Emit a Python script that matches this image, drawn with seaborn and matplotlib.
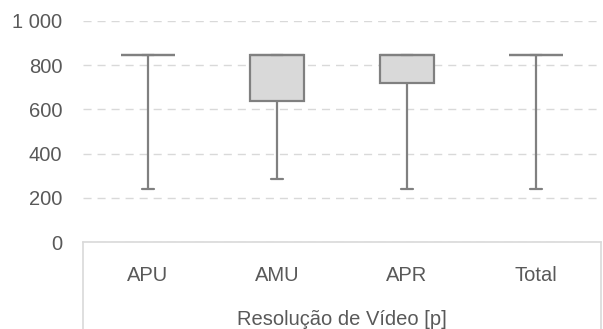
import matplotlib
matplotlib.use("Agg")
import matplotlib.pyplot as plt
from matplotlib.lines import Line2D
from matplotlib.ticker import FuncFormatter
import seaborn as sns
import pandas as pd

# five-number summaries
categories = ["APU", "AMU", "APR", "Total"]
mins = [240, 283, 240, 240]
q1s = [848, 640, 720, 845]
medians = [848, 848, 845, 845]
q3s = [848, 848, 845, 845]
maxs = [848, 848, 848, 845]

rows = []
for cat, a, b, c, d, e in zip(categories, mins, q1s, medians, q3s, maxs):
    for v in (a, b, c, d, e):
        rows.append({"grupo": cat, "valor": v})
df = pd.DataFrame(rows)

sns.set_style("white")
plt.rcParams["font.family"] = ["Liberation Sans", "DejaVu Sans"]

text_c = "#595959"
fs = 14.5
fig = plt.figure(figsize=(6.03, 3.29), dpi=100)
ax = fig.add_axes([83 / 603, 87 / 329, 518 / 603, 221 / 329])

sns.boxplot(data=df, x="grupo", y="valor", order=categories, ax=ax,
            whis=(0, 100), width=0.42, color="#d9d9d9", linecolor="#808080",
            linewidth=1.6, capwidths=0.09, showfliers=False)

ax.set_ylim(0, 1000)
ax.set_yticks([0, 200, 400, 600, 800, 1000])
ax.yaxis.set_major_formatter(FuncFormatter(lambda v, p: f"{int(v):,}".replace(",", " ")))
ax.yaxis.grid(True, linestyle=(0, (5.8, 4.3)), color="#d9d9d9", linewidth=1)
ax.set_axisbelow(True)
for s in ("left", "right", "top"):
    ax.spines[s].set_visible(False)
ax.spines["bottom"].set_color("#d9d9d9")
ax.spines["bottom"].set_linewidth(1.2)

ax.tick_params(axis="y", length=0, pad=15, labelsize=fs, labelcolor=text_c)
ax.tick_params(axis="x", length=0, pad=17, labelsize=fs, labelcolor=text_c)
ax.set_ylabel("")
ax.set_xlabel("Resolução de Vídeo [p]", fontsize=fs, color=text_c, labelpad=18)

# category-axis frame lines below the plot
for xa in (0.0, 1.0):
    ax.add_line(Line2D([xa, xa], [0, -87 / 221], transform=ax.transAxes,
                       color="#d9d9d9", linewidth=1.2, clip_on=False))

fig.savefig("out.png", dpi=100)
